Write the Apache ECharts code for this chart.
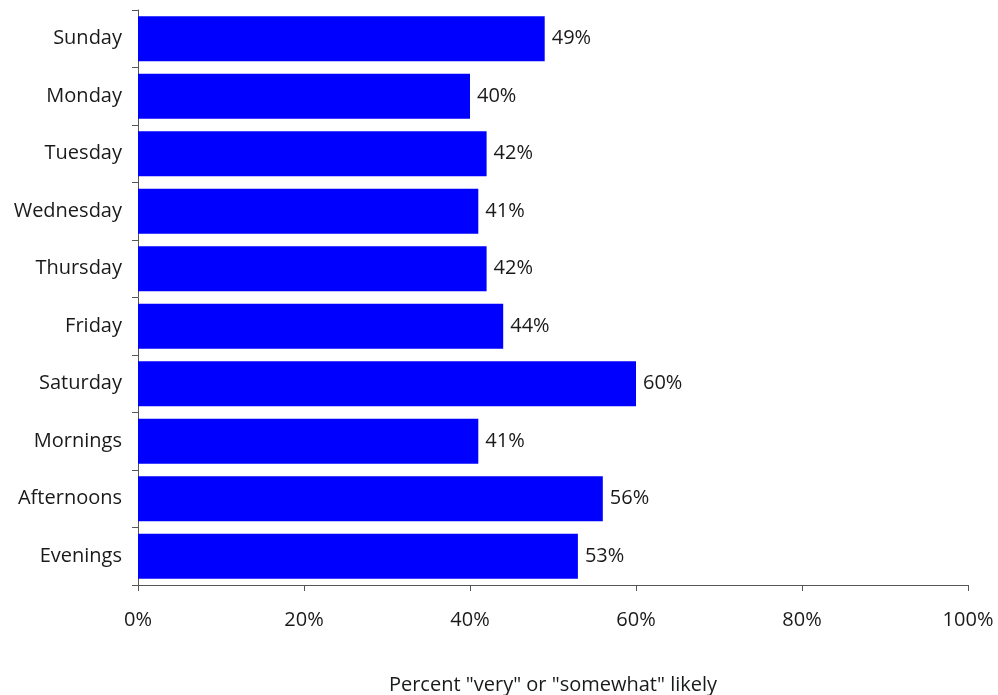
<!DOCTYPE html>
<html><head><meta charset="utf-8">
<script src="https://cdn.jsdelivr.net/npm/echarts@6/dist/echarts.min.js"></script>
<style>html,body{margin:0;padding:0;background:#fff}#c{width:998px;height:695px}</style>
</head><body><div id="c"></div>
<script>
const categories = ["Sunday","Monday","Tuesday","Wednesday","Thursday","Friday","Saturday","Mornings","Afternoons","Evenings"];
const values = [49,40,42,41,42,44,60,41,56,53];
const xTicks = [0,20,40,60,80,100];
const xAxisTitle = 'Percent "very" or "somewhat" likely';

const font = '"Open Sans", Lato, sans-serif';
const chart = echarts.init(document.getElementById('c'), null, {renderer:'canvas'});
chart.setOption({
  animation:false,
  grid:{left:138,right:30,top:10,bottom:110,containLabel:false,outerBoundsMode:'none'},
  xAxis:{
    type:'value',min:xTicks[0],max:xTicks[xTicks.length-1],interval:20,
    axisLine:{show:true,lineStyle:{color:'#555',width:1}},
    axisTick:{show:true,length:6,lineStyle:{color:'#555'}},
    splitLine:{show:false},
    axisLabel:{formatter:'{value}%',color:'#1a1a1a',fontSize:20,fontFamily:font,margin:25},
    name:xAxisTitle,nameLocation:'middle',nameGap:90,
    nameTextStyle:{color:'#1a1a1a',fontSize:20,fontFamily:font}
  },
  yAxis:{
    type:'category',data:categories,inverse:true,
    axisLine:{show:true,lineStyle:{color:'#555',width:1}},
    axisTick:{show:true,length:6,lineStyle:{color:'#555'}},
    axisLabel:{color:'#1a1a1a',fontSize:20,fontFamily:font,margin:16}
  },
  series:[{
    type:'bar',data:values,barCategoryGap:'22%',
    itemStyle:{color:'#0000FF'},
    label:{show:true,position:'right',distance:7,formatter:'{c}%',color:'#1a1a1a',fontSize:20,fontFamily:font}
  }]
});
</script></body></html>
